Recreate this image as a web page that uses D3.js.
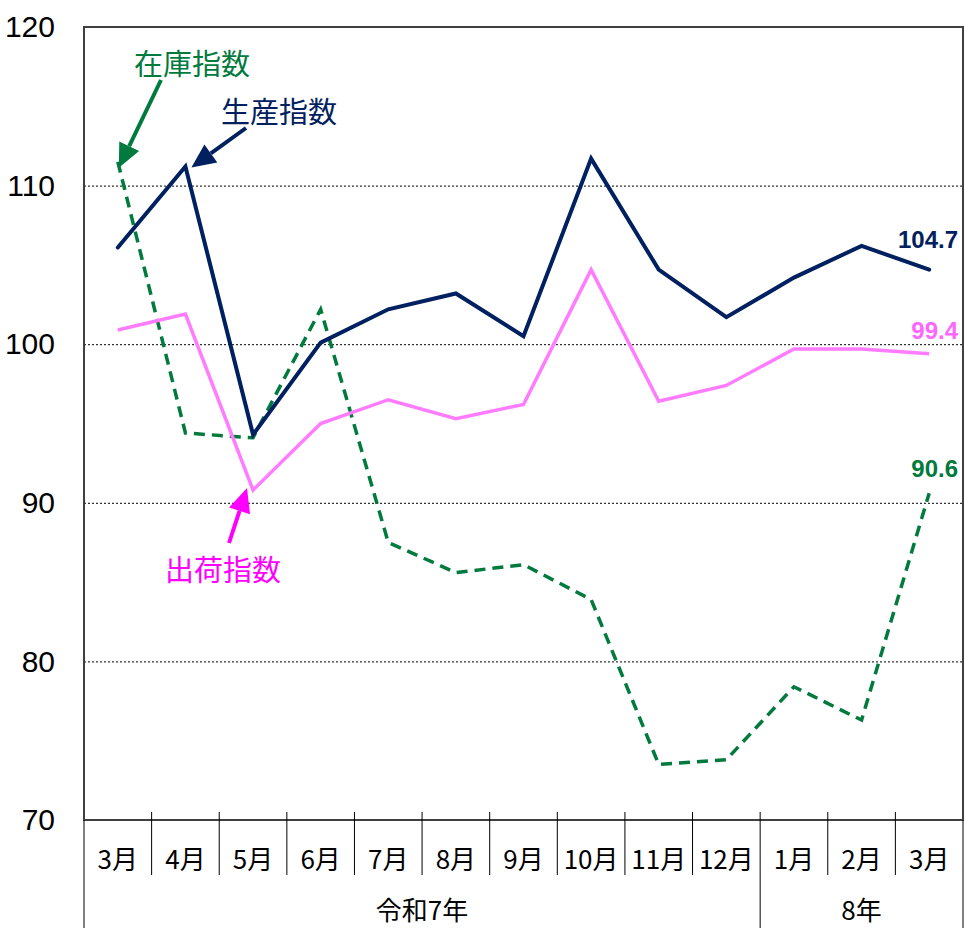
<!DOCTYPE html>
<html><head><meta charset="utf-8">
<script src="https://cdn.jsdelivr.net/npm/d3@7"></script>
<style>body{margin:0;background:#fff}svg{display:block}</style>
</head><body><svg id="c" width="965" height="928"></svg>
<script>
const categories = ["3月","4月","5月","6月","7月","8月","9月","10月","11月","12月","1月","2月","3月"];
const yearGroups = [{label:"令和7年", from:0, to:9},{label:"8年", from:10, to:12}];
const production = [106.1, 111.2, 94.3, 100.1, 102.2, 103.2, 100.5, 111.7, 104.7, 101.7, 104.2, 106.2, 104.7];
const shipments  = [100.9, 101.9, 90.8, 95.0, 96.5, 95.3, 96.2, 104.7, 96.4, 97.4, 99.7, 99.7, 99.4];
const inventory  = [111.5, 94.4, 94.1, 102.2, 87.5, 85.6, 86.1, 83.9, 73.5, 73.8, 78.4, 76.3, 90.6];
const yTicks = [70, 80, 90, 100, 110, 120];

const svg = d3.select("#c");
const L = 84, R = 963, T = 27, B = 820;
const x = d3.scaleBand().domain(d3.range(categories.length)).range([L, R]);
const y = d3.scaleLinear().domain([70, 120]).range([B, T]);
const font = "'Noto Sans CJK JP', 'Liberation Sans', sans-serif";
const numFont = "'Liberation Sans', Arial, sans-serif";

// grid lines
const grid = svg.append("g").attr("transform", `translate(${L},0)`)
  .call(d3.axisLeft(y).tickValues(yTicks.filter(v => v > 70 && v < 120)).tickSize(-(R - L)).tickFormat(""));
grid.select(".domain").remove();
grid.selectAll("line").attr("stroke", "#000").attr("stroke-width", 1).attr("stroke-dasharray", "2,2");

// y labels
const ya = svg.append("g").attr("transform", `translate(${L},0)`)
  .call(d3.axisLeft(y).tickValues(yTicks).tickSize(0).tickPadding(29));
ya.select(".domain").remove();
ya.selectAll("text").attr("font-family", numFont).attr("font-size", 30).attr("fill", "#000");

// frame
svg.append("rect").attr("x", L).attr("y", T).attr("width", R - L).attr("height", B - T)
  .attr("fill", "none").attr("stroke", "#404040").attr("stroke-width", 2);

// category separators
const seps = d3.range(1, categories.length);
svg.append("g").selectAll("line").data(seps).join("line")
  .attr("x1", i => x(i)).attr("x2", i => x(i))
  .attr("y1", B - 8).attr("y2", i => yearGroups.some(g => g.from === i) ? 928 : 875)
  .attr("stroke", "#000").attr("stroke-width", 1);
svg.append("g").selectAll("line").data([L, R]).join("line")
  .attr("x1", d => d).attr("x2", d => d).attr("y1", B).attr("y2", 928)
  .attr("stroke", "#000").attr("stroke-width", 1);

// month labels
svg.append("g").selectAll("text").data(categories).join("text")
  .attr("x", (d, i) => x(i) + x.bandwidth() / 2).attr("y", 857)
  .attr("text-anchor", "middle").attr("dominant-baseline", "central")
  .attr("font-family", font).attr("font-size", 26).attr("fill", "#000").text(d => d);

// year labels
svg.append("g").selectAll("text").data(yearGroups).join("text")
  .attr("x", g => (x(g.from) + x(g.to) + x.bandwidth()) / 2).attr("y", 908)
  .attr("text-anchor", "middle").attr("dominant-baseline", "central")
  .attr("font-family", font).attr("font-size", 26).attr("fill", "#000").text(g => g.label);

const line = d3.line().x((d, i) => x(i) + x.bandwidth() / 2).y(d => y(d));
const navy = "#002060", pink = "#FF7BFF", green = "#007A3D", magenta = "#FF00FF";

svg.append("path").datum(inventory).attr("d", line).attr("fill", "none")
  .attr("stroke", green).attr("stroke-width", 3.5).attr("stroke-dasharray", "11,7");
svg.append("path").datum(shipments).attr("d", line).attr("fill", "none")
  .attr("stroke", pink).attr("stroke-width", 3.5).attr("stroke-linejoin", "miter");
svg.append("path").datum(production).attr("d", line).attr("fill", "none")
  .attr("stroke", navy).attr("stroke-width", 4).attr("stroke-linejoin", "miter").attr("stroke-linecap", "round");

// end value labels
const last = categories.length - 1;
const endLabels = [
  {v: production[last], c: navy, yy: 248},
  {v: shipments[last], c: "#FF66FF", yy: 339},
  {v: inventory[last], c: green, yy: 477}
];
svg.append("g").selectAll("text").data(endLabels).join("text")
  .attr("x", 958).attr("y", d => d.yy).attr("text-anchor", "end")
  .attr("font-family", numFont).attr("font-weight", "bold").attr("font-size", 24)
  .attr("fill", d => d.c).text(d => d3.format(".1f")(d.v));

// annotations with arrows
function arrow(x1, y1, x2, y2, color) {
  const ang = Math.atan2(y2 - y1, x2 - x1);
  const hl = 24, hw = 11;
  const bx = x2 - hl * Math.cos(ang), by = y2 - hl * Math.sin(ang);
  svg.append("line").attr("x1", x1).attr("y1", y1).attr("x2", bx).attr("y2", by)
    .attr("stroke", color).attr("stroke-width", 4);
  const px = -Math.sin(ang), py = Math.cos(ang);
  svg.append("path").attr("d", `M${x2},${y2}L${bx + px * hw},${by + py * hw}L${bx - px * hw},${by - py * hw}Z`)
    .attr("fill", color);
}
const notes = [
  {t: "在庫指数", c: green, tx: 192, ty: 62},
  {t: "生産指数", c: navy, tx: 279, ty: 110},
  {t: "出荷指数", c: magenta, tx: 223, ty: 568}
];
arrow(161, 80, x(0) + x.bandwidth() / 2 + 1, y(inventory[0]) + 6, green);
arrow(246, 128, x(1) + x.bandwidth() / 2 + 6, y(production[1]) + 1, navy);
arrow(229, 543, x(2) + x.bandwidth() / 2 - 6, y(shipments[2]) - 2, magenta);
svg.append("g").selectAll("text").data(notes).join("text")
  .attr("x", d => d.tx).attr("y", d => d.ty).attr("text-anchor", "middle").attr("dominant-baseline", "central")
  .attr("font-family", font).attr("font-size", 29).attr("fill", d => d.c).text(d => d.t);
</script></body></html>
